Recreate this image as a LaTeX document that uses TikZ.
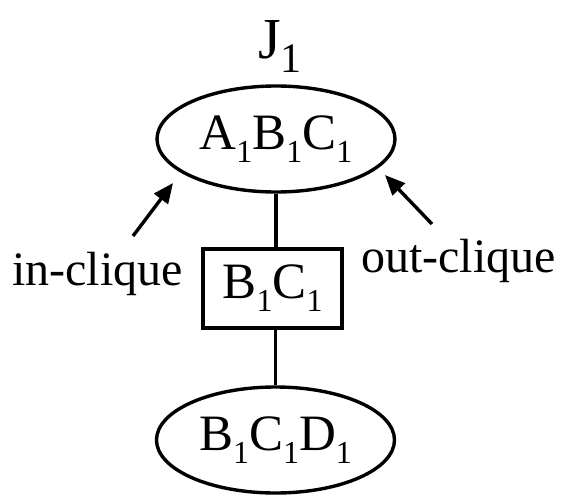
\documentclass[tikz,border=0pt]{standalone}
\usepackage{fontspec}
\setmainfont{Liberation Serif}
\usetikzlibrary{shapes.geometric,arrows.meta}
\newcommand\sbx[1]{\raisebox{-13pt}{\fontsize{32}{32}\selectfont #1}}
\newcommand\sbj[1]{\raisebox{-14pt}{\fontsize{42}{42}\selectfont #1}}
\tikzset{
  clique/.style={draw, ellipse, line width=3.4pt, inner sep=0pt, minimum width=238pt, minimum height=106pt, font=\fontsize{51}{60}\selectfont},
  sepbox/.style={draw, rectangle, line width=3.4pt, inner sep=0pt, minimum width=139pt, minimum height=79pt, font=\fontsize{51}{60}\selectfont},
  lbl/.style={inner sep=0pt, font=\fontsize{48}{58}\selectfont},
  conn/.style={line width=3.4pt},
  pointer/.style={line width=3.4pt, -{Triangle[length=20pt,width=17pt]}}
}
\begin{document}
\begin{tikzpicture}[x=1pt,y=-1pt]
\useasboundingbox (0,0) rectangle (563,496);
\node[clique] (top) at (276,139) {A\sbx{1}B\sbx{1}C\sbx{1}};
\node[sepbox] (sep) at (272.5,288.5) {B\sbx{1}C\sbx{1}};
\node[clique] (bot) at (275.5,440) {B\sbx{1}C\sbx{1}D\sbx{1}};
\node[lbl, anchor=base west, font=\fontsize{58}{66}\selectfont] (title) at (258,58) {J\sbj{1}};
\node[lbl, anchor=base west] (inlbl) at (12,285) {in-clique};
\node[lbl, anchor=base west] (outlbl) at (361,272) {out-clique};
\draw[conn] (top.south) -- (top.south |- sep.north);
\draw[conn] (bot.north |- sep.south) -- (bot.north);
\coordinate (inTail) at (133,236);
\coordinate (inTip) at (173,183);
\coordinate (outTail) at (432,224);
\coordinate (outTip) at (385,175);
\draw[pointer] (inTail) -- (inTip);
\draw[pointer] (outTail) -- (outTip);
\end{tikzpicture}
\end{document}
